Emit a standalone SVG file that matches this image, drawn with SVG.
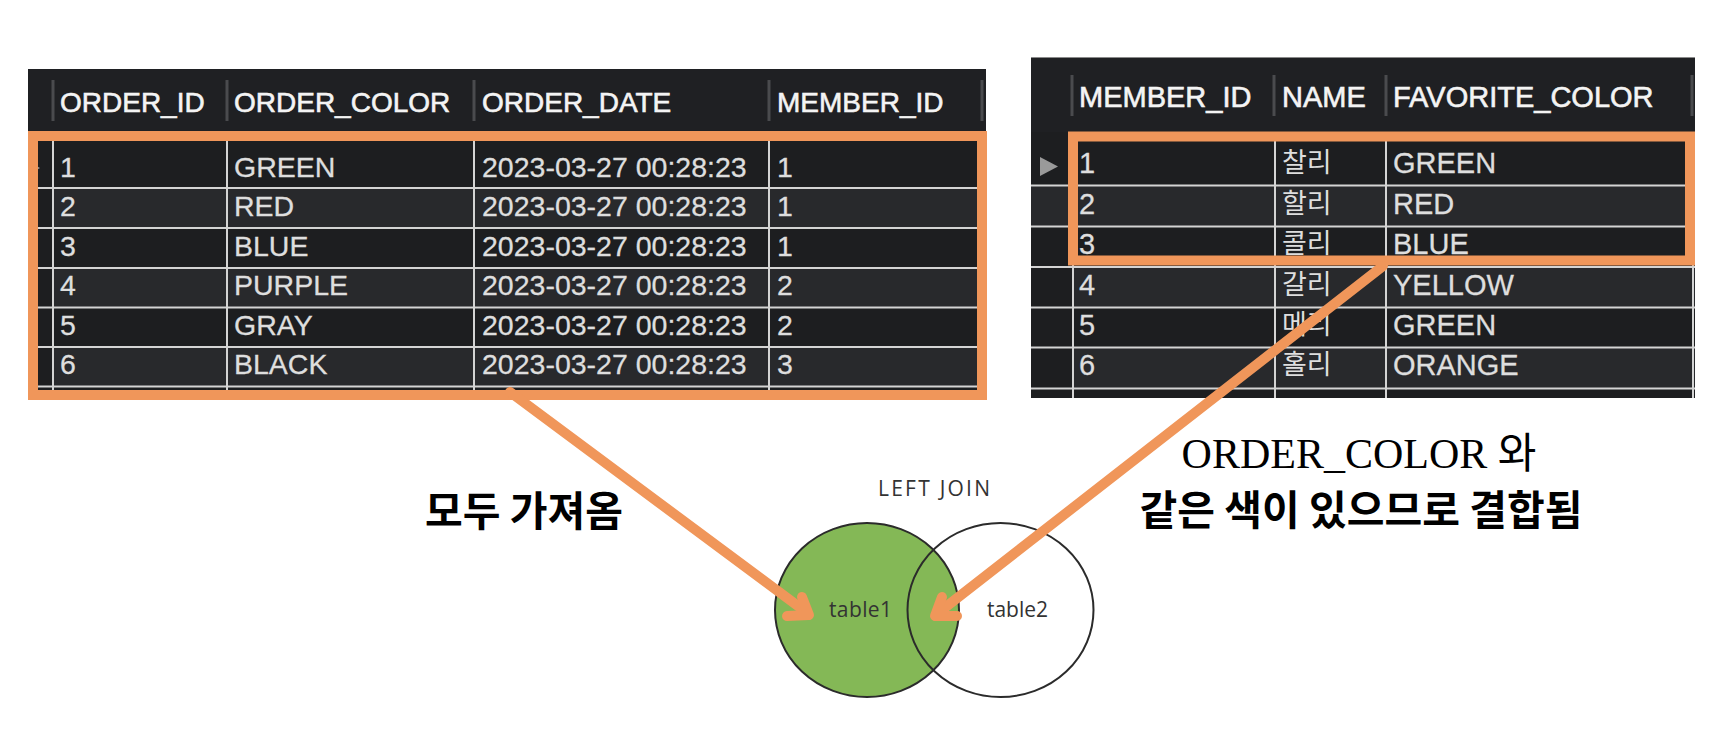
<svg xmlns="http://www.w3.org/2000/svg" width="1736" height="730" viewBox="0 0 1736 730">
<defs>
<style>
.hdr{font-family:"Liberation Sans",Arial,sans-serif;font-size:28px;fill:#f4f4f4;stroke:#f4f4f4;stroke-width:0.6}
.hdr2{font-family:"Liberation Sans",Arial,sans-serif;font-size:29px;fill:#f4f4f4;stroke:#f4f4f4;stroke-width:0.6}
.cell{font-family:"Liberation Sans",Arial,sans-serif;font-size:28.5px;fill:#dedede;stroke:#dedede;stroke-width:0.3}
.cell2{font-family:"Liberation Sans",Arial,sans-serif;font-size:29px;fill:#dedede;stroke:#dedede;stroke-width:0.3}
.kname{font-family:"Noto Sans CJK KR",sans-serif;font-size:27px;fill:#dedede}
.dark{fill:#1d1e20}
.light{fill:#28292c}
.hsep{stroke:#4a4b4e;stroke-width:3}
.grid{stroke:#d4d4d4;stroke-width:2}
.hl{fill:none;stroke:#f0965a;stroke-width:10}
.conn{fill:none;stroke:#f0965a;stroke-width:10;stroke-linecap:round;stroke-linejoin:round}
.venn{font-family:"Open Sans","Liberation Sans",sans-serif;font-size:21px;fill:#333}
.label{font-family:"Noto Sans CJK KR",sans-serif;font-size:41px;font-weight:bold;fill:#000}
.label2{font-family:"Liberation Serif","Noto Sans CJK KR",serif;font-size:42px;fill:#000}
</style>
</defs>
<rect width="1736" height="730" fill="#fff"/>

<g id="orders-table">
<rect x="28" y="69" width="958" height="326" class="dark"/>
<rect x="28" y="69" width="958" height="62" fill="#1f2023"/>
<line x1="53" y1="80" x2="53" y2="121" class="hsep"/>
<line x1="227" y1="80" x2="227" y2="121" class="hsep"/>
<line x1="474" y1="80" x2="474" y2="121" class="hsep"/>
<line x1="769" y1="80" x2="769" y2="121" class="hsep"/>
<line x1="982" y1="80" x2="982" y2="121" class="hsep"/>
<text class="hdr" x="60" y="112">ORDER_ID</text>
<text class="hdr" x="234" y="112">ORDER_COLOR</text>
<text class="hdr" x="482" y="112">ORDER_DATE</text>
<text class="hdr" x="777" y="112">MEMBER_ID</text>
<rect x="53" y="189" width="933" height="39" class="light"/>
<rect x="53" y="269" width="933" height="38" class="light"/>
<rect x="53" y="348" width="933" height="38" class="light"/>
<line x1="37" y1="188" x2="986" y2="188" class="grid"/>
<line x1="37" y1="228" x2="986" y2="228" class="grid"/>
<line x1="37" y1="268" x2="986" y2="268" class="grid"/>
<line x1="37" y1="307.5" x2="986" y2="307.5" class="grid"/>
<line x1="37" y1="347" x2="986" y2="347" class="grid"/>
<line x1="37" y1="386.5" x2="986" y2="386.5" class="grid"/>
<line x1="53" y1="141" x2="53" y2="395" class="grid"/>
<line x1="227" y1="141" x2="227" y2="395" class="grid"/>
<line x1="474" y1="141" x2="474" y2="395" class="grid"/>
<line x1="769" y1="141" x2="769" y2="395" class="grid"/>
<polygon points="30,162 40,168 30,174" fill="#9a9a9a"/>
<g class="cell">
<text x="60" y="177">1</text><text x="234" y="177">GREEN</text><text x="482" y="177">2023-03-27 00:28:23</text><text x="777" y="177">1</text>
<text x="60" y="216">2</text><text x="234" y="216">RED</text><text x="482" y="216">2023-03-27 00:28:23</text><text x="777" y="216">1</text>
<text x="60" y="256">3</text><text x="234" y="256">BLUE</text><text x="482" y="256">2023-03-27 00:28:23</text><text x="777" y="256">1</text>
<text x="60" y="295">4</text><text x="234" y="295">PURPLE</text><text x="482" y="295">2023-03-27 00:28:23</text><text x="777" y="295">2</text>
<text x="60" y="335">5</text><text x="234" y="335">GRAY</text><text x="482" y="335">2023-03-27 00:28:23</text><text x="777" y="335">2</text>
<text x="60" y="374">6</text><text x="234" y="374">BLACK</text><text x="482" y="374">2023-03-27 00:28:23</text><text x="777" y="374">3</text>
</g>
<rect x="33" y="136" width="949" height="259" class="hl"/>
</g>

<g id="members-table">
<rect x="1031" y="57" width="664" height="341" class="dark"/>
<rect x="1031" y="57" width="664" height="75" fill="#1f2023"/>
<line x1="1031" y1="57.5" x2="1695" y2="57.5" stroke="#8a8a8a" stroke-width="1"/>
<line x1="1072" y1="75" x2="1072" y2="116" class="hsep"/>
<line x1="1274" y1="75" x2="1274" y2="116" class="hsep"/>
<line x1="1386" y1="75" x2="1386" y2="116" class="hsep"/>
<line x1="1692" y1="75" x2="1692" y2="116" class="hsep"/>
<text class="hdr2" x="1079" y="107">MEMBER_ID</text>
<text class="hdr2" x="1282" y="107">NAME</text>
<text class="hdr2" x="1393" y="107">FAVORITE_COLOR</text>
<rect x="1031" y="186" width="664" height="40" class="light"/>
<rect x="1073" y="268" width="622" height="39" class="light"/>
<rect x="1073" y="348" width="622" height="40" class="light"/>
<line x1="1031" y1="185.5" x2="1695" y2="185.5" class="grid"/>
<line x1="1031" y1="226.5" x2="1695" y2="226.5" class="grid"/>
<line x1="1031" y1="267" x2="1695" y2="267" class="grid"/>
<line x1="1031" y1="307.5" x2="1695" y2="307.5" class="grid"/>
<line x1="1031" y1="347.5" x2="1695" y2="347.5" class="grid"/>
<line x1="1031" y1="388.5" x2="1695" y2="388.5" class="grid"/>
<line x1="1073" y1="132" x2="1073" y2="398" class="grid"/>
<line x1="1275" y1="132" x2="1275" y2="398" class="grid"/>
<line x1="1386" y1="132" x2="1386" y2="398" class="grid"/>
<line x1="1693" y1="132" x2="1693" y2="398" class="grid"/>
<polygon points="1040,157 1058,166.5 1040,176" fill="#9a9a9a"/>
<g class="cell2">
<text x="1079" y="173">1</text><text x="1393" y="173">GREEN</text>
<text x="1079" y="214">2</text><text x="1393" y="214">RED</text>
<text x="1079" y="254">3</text><text x="1393" y="254">BLUE</text>
<text x="1079" y="295">4</text><text x="1393" y="295">YELLOW</text>
<text x="1079" y="335">5</text><text x="1393" y="335">GREEN</text>
<text x="1079" y="375">6</text><text x="1393" y="375">ORANGE</text>
</g>
<g class="kname">
<text x="1282" y="172">찰리</text>
<text x="1282" y="213">할리</text>
<text x="1282" y="253">콜리</text>
<text x="1282" y="294">갈리</text>
<text x="1282" y="334">메리</text>
<text x="1282" y="374">홀리</text>
</g>
<rect x="1073" y="136.5" width="617" height="124" class="hl"/>
</g>

<g id="venn">
<ellipse cx="867" cy="610" rx="92" ry="87" fill="#84b856"/>
<ellipse cx="1000.5" cy="610" rx="93" ry="87" fill="none" stroke="#2b2b2b" stroke-width="2"/>
<ellipse cx="867" cy="610" rx="92" ry="87" fill="none" stroke="#2b2b2b" stroke-width="2"/>
<text class="venn" x="878" y="496" textLength="112">LEFT JOIN</text>
<text class="venn" x="829" y="617" textLength="63">table1</text>
<text class="venn" x="987" y="617" textLength="61">table2</text>
</g>

<g id="labels">
<text class="label" x="524" y="526" text-anchor="middle">모두 가져옴</text>
<text class="label2" x="1359" y="468" text-anchor="middle">ORDER_COLOR 와</text>
<text class="label" x="1361" y="525" text-anchor="middle">같은 색이 있으므로 결합됨</text>
</g>

<g id="connectors">
<line x1="510" y1="392" x2="806" y2="612" class="conn"/>
<polyline points="802,597 809,615 787,616" class="conn"/>
<line x1="1383" y1="266" x2="938" y2="613" class="conn"/>
<polyline points="942,597 935,616 957,616" class="conn"/>
</g>
</svg>
